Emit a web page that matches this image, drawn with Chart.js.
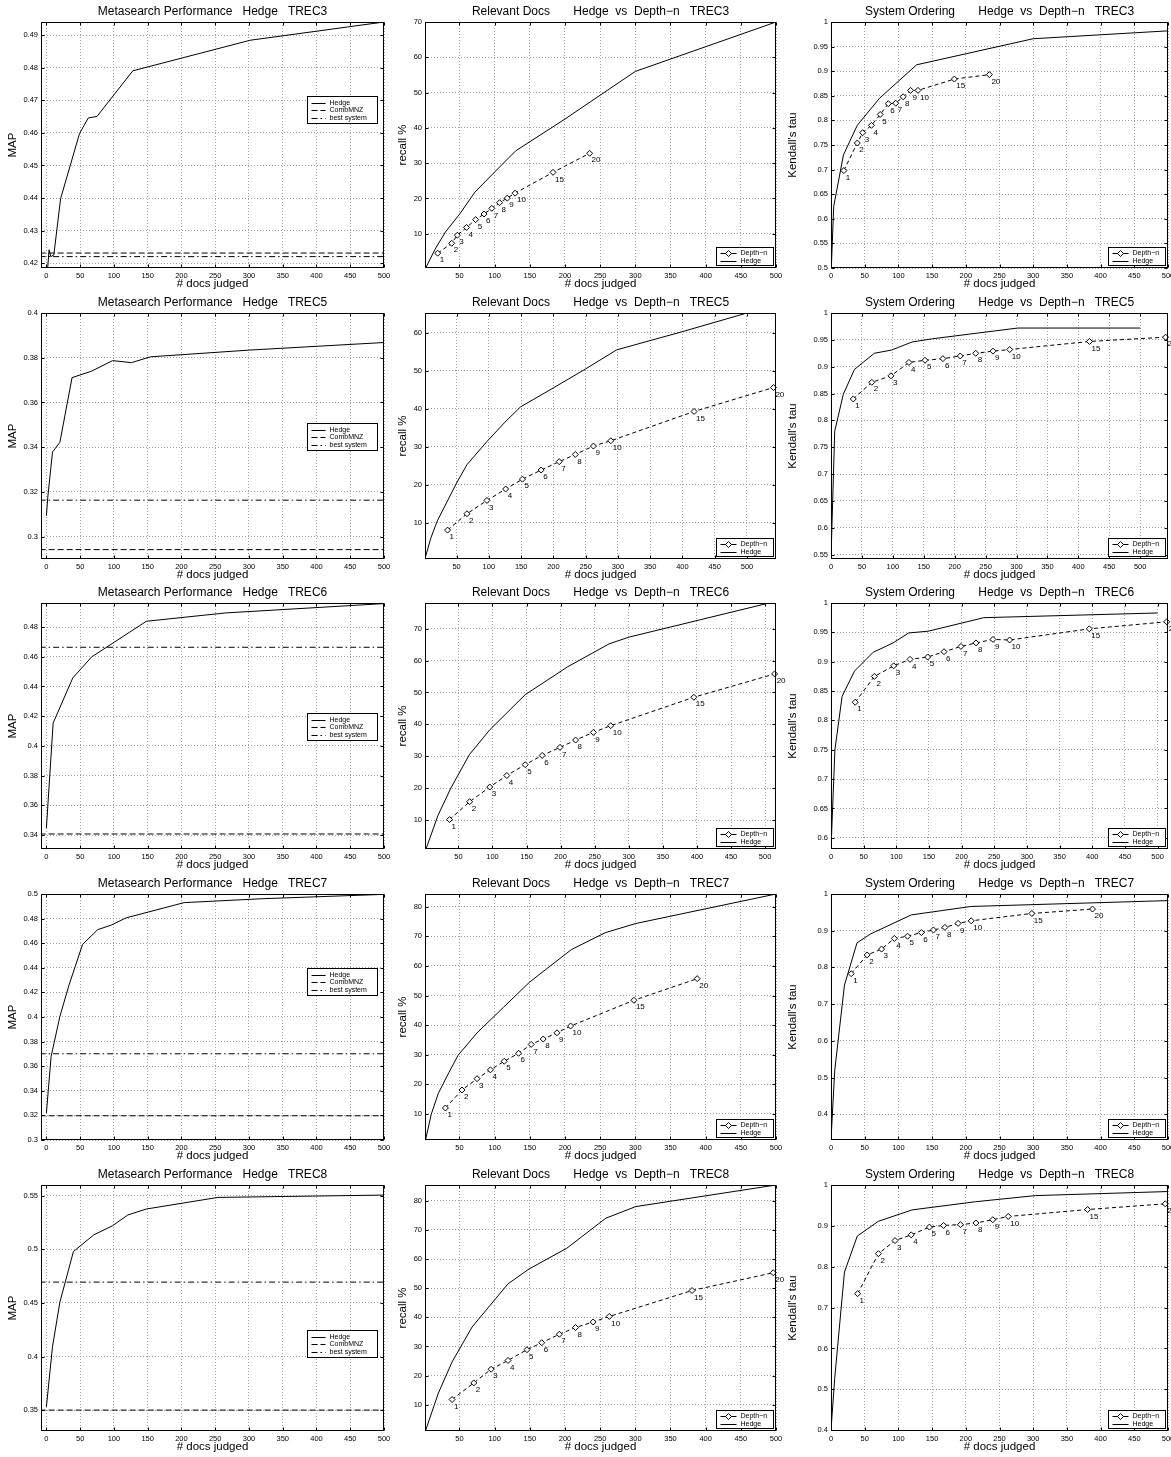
<!DOCTYPE html>
<html>
<head>
<meta charset="utf-8">
<script src="https://cdn.jsdelivr.net/npm/chart.js@4.4.0/dist/chart.umd.min.js"></script>
<style>
  html, body { margin: 0; padding: 0; background: #fff; overflow: hidden; }
  #grid { position: relative; width: 1171px; height: 1457px; overflow: hidden; background: #fff; }
  #grid canvas { position: absolute; }
</style>
</head>
<body>
<div id="grid"></div>
<script>
// ---- data ----
const depthLabels = ['1', '2', '3', '4', '5', '6', '7', '8', '9', '10', '15', '20'];
const docsTicks = [0, 50, 100, 150, 200, 250, 300, 350, 400, 450, 500];

// TREC3
const trec3MapDocs = [2, 4, 6.5, 11, 21, 49, 62, 75, 128, 302, 500];
const trec3Map = [0.4188, 0.4241, 0.4220, 0.4225, 0.4398, 0.4598, 0.4646, 0.4651, 0.4791, 0.4885, 0.4941];
const trec3CombMNZ = 0.4231;
const trec3Best = 0.4220;
const trec3RecallDocs = [2, 15, 30, 50, 72, 100, 130, 200, 300, 500];
const trec3Recall = [0.3, 5.5, 10.5, 15.5, 21.8, 27.5, 33.5, 42.5, 56, 70];
const trec3TauDocs = [0.5, 4, 18.5, 39, 72, 127, 300, 500];
const trec3Tau = [0.5, 0.625, 0.73, 0.79, 0.845, 0.913, 0.966, 0.982];
const trec3DepthDocs = [19, 39, 47, 60, 73, 85, 96, 107, 118, 129, 183, 235];
const trec3DepthRecall = [4.5, 7.3, 9.6, 11.8, 14.0, 15.6, 17.2, 18.8, 20.1, 21.5, 27.4, 32.8];
const trec3DepthTau = [0.698, 0.754, 0.775, 0.79, 0.812, 0.834, 0.835, 0.848, 0.861, 0.861, 0.884, 0.893];

// TREC5
const trec5MapDocs = [0, 2, 9, 20, 38, 67, 98, 126, 154, 300, 500];
const trec5Map = [0.3093, 0.3175, 0.3378, 0.3422, 0.3711, 0.374, 0.3787, 0.3778, 0.3804, 0.3834, 0.3868];
const trec5CombMNZ = 0.2942;
const trec5Best = 0.3163;
const trec5RecallDocs = [1, 10, 20, 35, 50, 66, 97, 125, 149, 200, 250, 298, 400, 500];
const trec5Recall = [0.6, 6, 10.5, 15.5, 20.5, 25.3, 31.4, 36.5, 40.5, 45.5, 50.5, 55.5, 60.3, 65.2];
const trec5TauDocs = [0, 6, 20, 38, 70, 98, 131, 164, 302, 500];
const trec5Tau = [0.543, 0.78, 0.849, 0.895, 0.925, 0.931, 0.946, 0.952, 0.972, 0.972];
const trec5DepthDocs = [36, 66, 97, 126, 152, 181, 209, 234, 262, 289, 418, 541];
const trec5DepthRecall = [8.1, 12.4, 15.9, 18.9, 21.5, 23.9, 26.1, 28.0, 30.2, 31.6, 39.3, 45.6];
const trec5DepthTau = [0.84, 0.871, 0.883, 0.908, 0.912, 0.915, 0.92, 0.925, 0.929, 0.932, 0.947, 0.955];

// TREC6
const trec6MapDocs = [0, 10, 39, 67, 148, 265, 500];
const trec6Map = [0.3447, 0.4154, 0.4457, 0.4599, 0.4839, 0.4895, 0.4958];
const trec6CombMNZ = 0.3407;
const trec6Best = 0.4664;
const trec6RecallDocs = [3, 20, 39, 66, 96, 148, 210, 271, 300, 500];
const trec6Recall = [1.3, 11.5, 20.1, 30.5, 38.3, 49.3, 58, 65.2, 67.3, 77.7];
const trec6TauDocs = [0, 6, 17, 36, 64.5, 95, 119, 149, 234, 500];
const trec6Tau = [0.581, 0.75, 0.841, 0.884, 0.916, 0.932, 0.949, 0.952, 0.975, 0.983];
const trec6DepthDocs = [37, 66.5, 96, 121, 148, 173, 199, 222, 248, 273.5, 395.5, 514];
const trec6DepthRecall = [10.2, 15.8, 20.4, 24, 27.4, 30.3, 32.8, 35.1, 37.5, 39.6, 48.5, 55.8];
const trec6DepthTau = [0.831, 0.875, 0.893, 0.904, 0.908, 0.917, 0.926, 0.932, 0.938, 0.937, 0.956, 0.968];

// TREC7
const trec7MapDocs = [0, 7, 20, 33.5, 53.6, 76, 96, 118, 204, 321, 500];
const trec7Map = [0.322, 0.368, 0.4005, 0.426, 0.459, 0.471, 0.4747, 0.4806, 0.493, 0.4962, 0.4997];
const trec7CombMNZ = 0.3197;
const trec7Best = 0.3701;
const trec7RecallDocs = [2, 10, 20, 35, 48, 75, 112.5, 150, 209, 257, 300, 500];
const trec7Recall = [1.5, 10, 17, 24, 29.8, 37.4, 46, 54.6, 65.5, 71.2, 74.3, 84.3];
const trec7TauDocs = [0, 5.5, 20, 38.6, 58.5, 119, 207.5, 500];
const trec7Tau = [0.33, 0.519, 0.752, 0.867, 0.891, 0.943, 0.966, 0.982];
const trec7DepthDocs = [30, 53.6, 75, 94, 113.6, 134, 152, 169, 188.6, 208, 298, 388];
const trec7DepthRecall = [12, 18.1, 21.9, 24.9, 27.8, 30.5, 33.5, 35.3, 37.4, 39.7, 48.4, 55.7];
const trec7DepthTau = [0.783, 0.834, 0.85, 0.879, 0.885, 0.895, 0.902, 0.909, 0.92, 0.927, 0.947, 0.959];

// TREC8
const trec8MapDocs = [0, 9, 20, 40, 70, 98, 120.5, 148, 254, 500];
const trec8Map = [0.353, 0.409, 0.4508, 0.4979, 0.5134, 0.522, 0.532, 0.5376, 0.5484, 0.5506];
const trec8CombMNZ = 0.35;
const trec8Best = 0.4694;
const trec8RecallDocs = [2, 20, 39.5, 68, 119, 149, 202.6, 258, 300.7, 500];
const trec8Recall = [1.3, 14, 24.7, 36.7, 51.5, 56.6, 63.7, 74, 78, 85.4];
const trec8TauDocs = [0, 5.5, 20, 39, 70, 120, 214, 303, 500];
const trec8Tau = [0.4, 0.527, 0.787, 0.875, 0.911, 0.939, 0.959, 0.974, 0.984];
const trec8DepthDocs = [39.5, 70.4, 95, 119, 146, 167, 192, 215, 240, 263, 380.7, 496];
const trec8DepthRecall = [11.8, 17.5, 22.2, 25.2, 28.9, 31.3, 34.2, 36.5, 38.4, 40.3, 49.2, 55.3];
const trec8DepthTau = [0.734, 0.832, 0.864, 0.878, 0.897, 0.901, 0.903, 0.907, 0.915, 0.923, 0.94, 0.954];

// one entry per figure row, axis limits as in the original
const rows = [
  { name: 'TREC3', mapDocs: trec3MapDocs, map: trec3Map, comb: trec3CombMNZ, best: trec3Best,
    recallDocs: trec3RecallDocs, recall: trec3Recall, tauDocs: trec3TauDocs, tau: trec3Tau,
    depthDocs: trec3DepthDocs, depthRecall: trec3DepthRecall, depthTau: trec3DepthTau,
    mapY: [0.4185, 0.4941, 0.01], docsMax: 500, recallY: [0.3, 70], tauY: [0.5, 1, 0.05], legendY: 0.30 },
  { name: 'TREC5', mapDocs: trec5MapDocs, map: trec5Map, comb: trec5CombMNZ, best: trec5Best,
    recallDocs: trec5RecallDocs, recall: trec5Recall, tauDocs: trec5TauDocs, tau: trec5Tau,
    depthDocs: trec5DepthDocs, depthRecall: trec5DepthRecall, depthTau: trec5DepthTau,
    mapY: [0.29, 0.4, 0.02], docsMax: 545, recallY: [0.5, 65.2], tauY: [0.542, 1, 0.05], legendY: 0.447 },
  { name: 'TREC6', mapDocs: trec6MapDocs, map: trec6Map, comb: trec6CombMNZ, best: trec6Best,
    recallDocs: trec6RecallDocs, recall: trec6Recall, tauDocs: trec6TauDocs, tau: trec6Tau,
    depthDocs: trec6DepthDocs, depthRecall: trec6DepthRecall, depthTau: trec6DepthTau,
    mapY: [0.3306, 0.4962, 0.02], docsMax: 516, recallY: [1, 78], tauY: [0.581, 1, 0.05], legendY: 0.447 },
  { name: 'TREC7', mapDocs: trec7MapDocs, map: trec7Map, comb: trec7CombMNZ, best: trec7Best,
    recallDocs: trec7RecallDocs, recall: trec7Recall, tauDocs: trec7TauDocs, tau: trec7Tau,
    depthDocs: trec7DepthDocs, depthRecall: trec7DepthRecall, depthTau: trec7DepthTau,
    mapY: [0.3, 0.5, 0.02], docsMax: 500, recallY: [1.2, 84.3], tauY: [0.33, 1, 0.1], legendY: 0.30 },
  { name: 'TREC8', mapDocs: trec8MapDocs, map: trec8Map, comb: trec8CombMNZ, best: trec8Best,
    recallDocs: trec8RecallDocs, recall: trec8Recall, tauDocs: trec8TauDocs, tau: trec8Tau,
    depthDocs: trec8DepthDocs, depthRecall: trec8DepthRecall, depthTau: trec8DepthTau,
    mapY: [0.3305, 0.56, 0.05], docsMax: 500, recallY: [1, 85.4], tauY: [0.398, 1, 0.1], legendY: 0.59 }
];

// ---- layout ----
const FONT = '"Liberation Sans", Arial, Helvetica, sans-serif';
const CELL_H = 291;
const ROW_TOP = [0, 291, 581, 872, 1163];
// canvases overlap a little; they are transparent, so that is harmless
const COLS = [
  { x: 0, w: 400, yw: 41, pr: 16 },
  { x: 390, w: 400, yw: 35, pr: 14 },
  { x: 780, w: 400, yw: 51, pr: 12 }
];
const DASH = [6, 3];
const DASH_DOT = [6, 3, 1.5, 3];
const DEPTH_DASH = [4, 3];

function pts(xs, ys) { return xs.map((x, i) => ({ x: x, y: ys[i] })); }
function flat(y) { return [{ x: -10, y: y }, { x: 500, y: y }]; }
function fmt(v) { return String(Math.round(v * 1000) / 1000); }

function diamond(ctx, x, y, r) {
  ctx.beginPath();
  ctx.moveTo(x, y - r); ctx.lineTo(x + r, y); ctx.lineTo(x, y + r); ctx.lineTo(x - r, y);
  ctx.closePath();
  ctx.fillStyle = '#fff'; ctx.fill();
  ctx.strokeStyle = '#000'; ctx.stroke();
}

// ---- plugins ----
const titlePlugin = {
  id: 'panelTitle',
  afterDraw(chart, args, o) {
    const { ctx, chartArea: a } = chart;
    ctx.save();
    ctx.font = '12px ' + FONT;
    ctx.fillStyle = '#000';
    ctx.textAlign = 'center';
    ctx.textBaseline = 'middle';
    ctx.fillText(o.text, (a.left + a.right) / 2, 12);
    ctx.restore();
  }
};

const framePlugin = {
  id: 'frame',
  afterDatasetsDraw(chart) {
    const { ctx, chartArea: a, scales } = chart;
    const l = Math.round(a.left) + 0.5, t = Math.round(a.top) + 0.5;
    const r = Math.round(a.right) - 0.5, b = Math.round(a.bottom) - 0.5;
    ctx.save();
    ctx.setLineDash([]);
    ctx.strokeStyle = '#000';
    ctx.lineWidth = 1;
    ctx.strokeRect(l, t, r - l, b - t);
    ctx.beginPath();
    scales.x.ticks.forEach(tk => {
      const px = Math.round(scales.x.getPixelForValue(tk.value)) + 0.5;
      ctx.moveTo(px, b); ctx.lineTo(px, b - 3);
      ctx.moveTo(px, t); ctx.lineTo(px, t + 3);
    });
    scales.y.ticks.forEach(tk => {
      const py = Math.round(scales.y.getPixelForValue(tk.value)) + 0.5;
      ctx.moveTo(l, py); ctx.lineTo(l + 3, py);
      ctx.moveTo(r, py); ctx.lineTo(r - 3, py);
    });
    ctx.stroke();
    ctx.restore();
  }
};

const labelPlugin = {
  id: 'depthLabels',
  afterDatasetsDraw(chart) {
    const { ctx } = chart;
    chart.data.datasets.forEach((ds, i) => {
      if (!ds.pointLabels) return;
      const meta = chart.getDatasetMeta(i);
      ctx.save();
      ctx.font = '8px ' + FONT;
      ctx.fillStyle = '#000';
      ctx.textAlign = 'left';
      ctx.textBaseline = 'top';
      meta.data.forEach((p, j) => ctx.fillText(ds.pointLabels[j], p.x + 2, p.y + 3));
      ctx.restore();
    });
  }
};

const legendPlugin = {
  id: 'boxLegend',
  afterDraw(chart, args, o) {
    const { ctx, chartArea: a } = chart;
    let x0, y0;
    if (o.corner) {
      x0 = a.right - o.inset - o.width;
      y0 = a.bottom - o.inset - o.height;
    } else {
      x0 = a.left + o.fx * (a.right - a.left);
      y0 = a.top + o.fy * (a.bottom - a.top);
    }
    x0 = Math.round(x0) + 0.5; y0 = Math.round(y0) + 0.5;
    ctx.save();
    ctx.fillStyle = '#fff';
    ctx.fillRect(x0, y0, o.width, o.height);
    ctx.strokeStyle = '#000';
    ctx.lineWidth = 1;
    ctx.setLineDash([]);
    ctx.strokeRect(x0, y0, o.width, o.height);
    ctx.font = '7px ' + FONT;
    ctx.textBaseline = 'middle';
    o.items.forEach((it, i) => {
      const y = Math.round(y0 + o.pad + i * o.row) + 0.5;
      ctx.strokeStyle = '#000';
      ctx.setLineDash(it.dash || []);
      ctx.beginPath();
      ctx.moveTo(x0 + 4, y); ctx.lineTo(x0 + 4 + o.sample, y);
      ctx.stroke();
      ctx.setLineDash([]);
      if (it.marker) diamond(ctx, x0 + 4 + o.sample / 2, y, 3);
      ctx.fillStyle = '#000';
      ctx.fillText(it.label, x0 + 8 + o.sample, y);
    });
    ctx.restore();
  }
};

// ---- chart factory ----
const grid = document.getElementById('grid');

function panel(col, row, cfg) {
  const g = COLS[col];
  const cv = document.createElement('canvas');
  cv.width = g.w;
  cv.height = CELL_H;
  cv.style.left = g.x + 'px';
  cv.style.top = ROW_TOP[row] + 'px';
  cv.style.width = g.w + 'px';
  cv.style.height = CELL_H + 'px';
  grid.appendChild(cv);

  return new Chart(cv.getContext('2d'), {
    type: 'line',
    data: { datasets: cfg.datasets },
    options: {
      responsive: false,
      animation: false,
      events: [],
      layout: { padding: { left: 0, right: g.pr, top: 22, bottom: 0 } },
      elements: { line: { borderWidth: 1, tension: 0, borderColor: '#000' }, point: { radius: 0 } },
      plugins: {
        legend: { display: false },
        tooltip: { enabled: false },
        panelTitle: { text: cfg.title },
        boxLegend: cfg.legend
      },
      scales: {
        x: {
          type: 'linear',
          min: cfg.x[0], max: cfg.x[1],
          afterBuildTicks: s => {
            s.ticks = docsTicks.filter(v => v >= s.min && v <= s.max).map(v => ({ value: v }));
          },
          ticks: { autoSkip: false, maxRotation: 0, padding: 3,
                   color: '#000', font: { family: FONT, size: 7.5 }, callback: v => String(v) },
          grid: { color: '#7a7a7a', lineWidth: 0.7, drawTicks: false },
          border: { display: false, dash: [1, 2] },
          title: { display: true, text: '# docs judged', color: '#000',
                   font: { family: FONT, size: 11.5 }, padding: { top: 0, bottom: 0 } },
          afterFit: s => { s.height = 23; }
        },
        y: {
          type: 'linear',
          min: cfg.y[0], max: cfg.y[1],
          ticks: { stepSize: cfg.y[2], includeBounds: false, autoSkip: false, padding: 3,
                   color: '#000', font: { family: FONT, size: 7.5 }, callback: v => fmt(v) },
          grid: { color: '#7a7a7a', lineWidth: 0.7, drawTicks: false },
          border: { display: false, dash: [1, 2] },
          title: { display: true, text: cfg.yTitle, color: '#000',
                   font: { family: FONT, size: 11.5 }, padding: { top: 6, bottom: 0 } },
          afterFit: s => { s.width = g.yw; }
        }
      }
    },
    plugins: [titlePlugin, framePlugin, labelPlugin, legendPlugin]
  });
}

function hedgeSet(xs, ys) {
  return { label: 'Hedge', data: pts(xs, ys), borderColor: '#000', borderWidth: 1, pointRadius: 0 };
}
function depthSet(xs, ys) {
  return { label: 'Depth\u2212n', data: pts(xs, ys), borderColor: '#000', borderWidth: 1,
           borderDash: DEPTH_DASH, pointStyle: 'rectRot', pointRadius: 3, pointHoverRadius: 3,
           pointBackgroundColor: '#fff', pointBorderColor: '#000', pointBorderWidth: 1,
           clip: false, pointLabels: depthLabels };
}

const mapLegend = fy => ({
  fx: 0.775, fy: fy, width: 70, height: 27, pad: 6, row: 7.5, sample: 14,
  items: [
    { label: 'Hedge' },
    { label: 'CombMNZ', dash: DASH },
    { label: 'best system', dash: DASH_DOT }
  ]
});
const depthLegend = {
  corner: true, inset: 3, width: 57, height: 18, pad: 5, row: 8, sample: 16,
  items: [
    { label: 'Depth\u2212n', marker: true },
    { label: 'Hedge' }
  ]
};

rows.forEach((r, i) => {
  panel(0, i, {
    title: 'Metasearch Performance   Hedge   ' + r.name,
    yTitle: 'MAP',
    x: [-8, 500],
    y: r.mapY,
    legend: mapLegend(r.legendY),
    datasets: [
      hedgeSet(r.mapDocs, r.map),
      { label: 'CombMNZ', data: flat(r.comb), borderColor: '#000', borderWidth: 1, borderDash: DASH, pointRadius: 0 },
      { label: 'best system', data: flat(r.best), borderColor: '#000', borderWidth: 1, borderDash: DASH_DOT, pointRadius: 0 }
    ]
  });
  panel(1, i, {
    title: 'Relevant Docs       Hedge  vs  Depth\u2212n   ' + r.name,
    yTitle: 'recall %',
    x: [1, r.docsMax],
    y: [r.recallY[0], r.recallY[1], 10],
    legend: depthLegend,
    datasets: [depthSet(r.depthDocs, r.depthRecall), hedgeSet(r.recallDocs, r.recall)]
  });
  panel(2, i, {
    title: 'System Ordering       Hedge  vs  Depth\u2212n   ' + r.name,
    yTitle: "Kendall's tau",
    x: [0, r.docsMax],
    y: r.tauY,
    legend: depthLegend,
    datasets: [depthSet(r.depthDocs, r.depthTau), hedgeSet(r.tauDocs, r.tau)]
  });
});
</script>
</body>
</html>
